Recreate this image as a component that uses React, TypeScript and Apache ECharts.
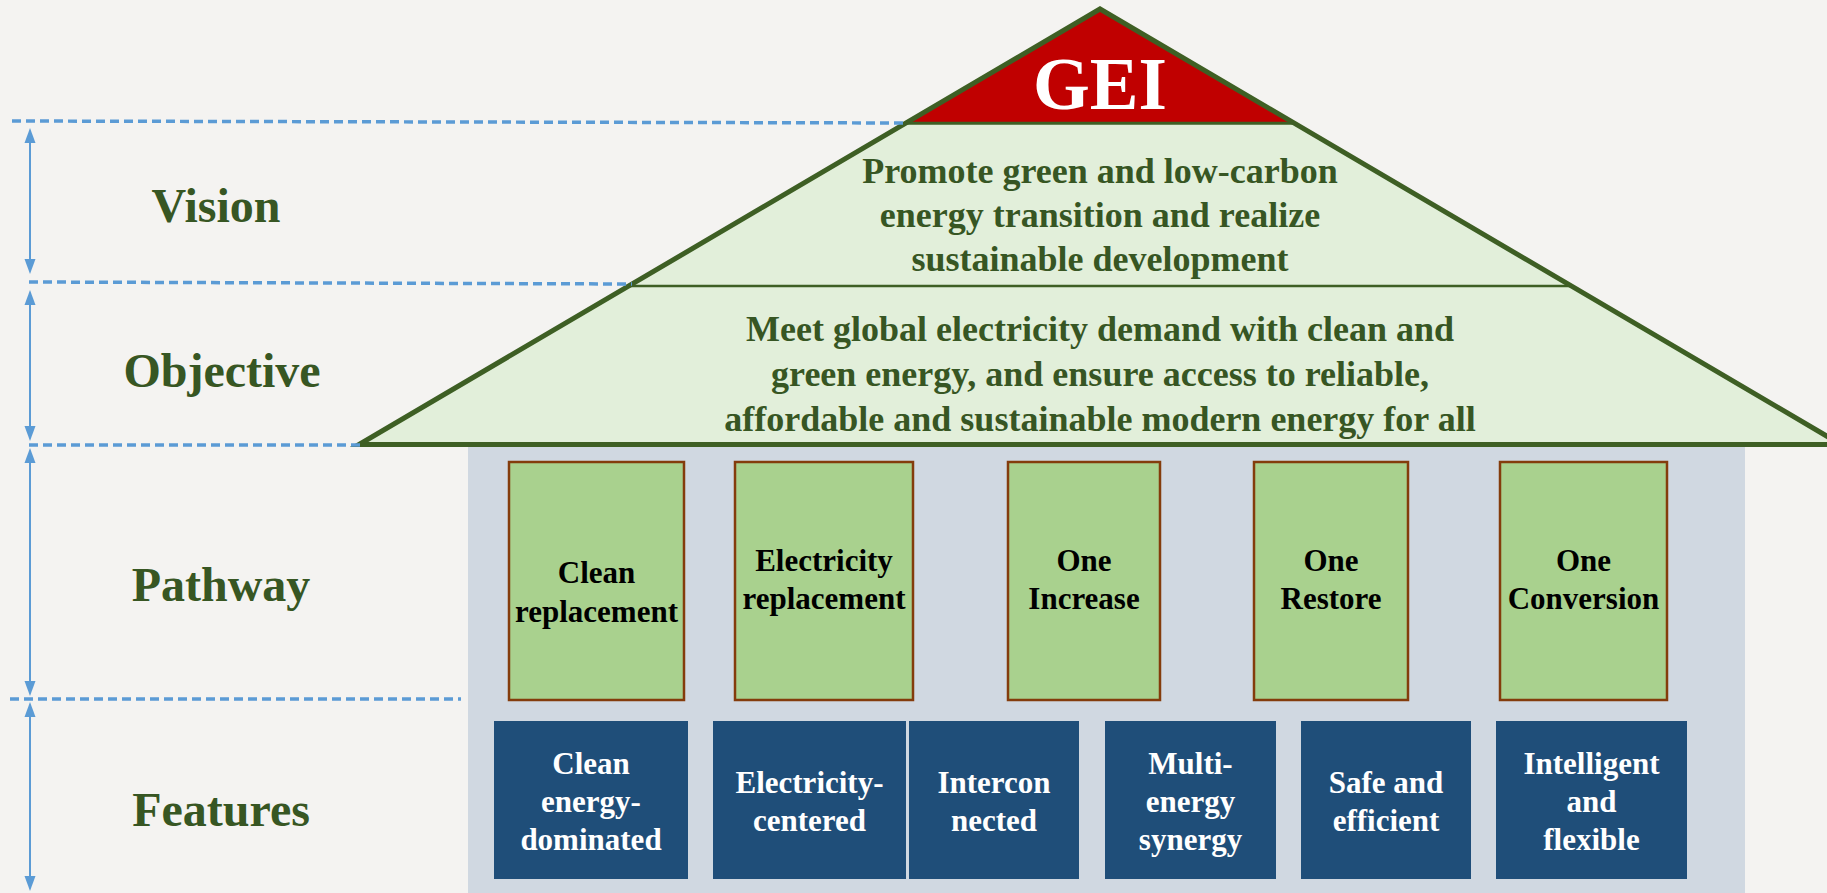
import React, { useEffect, useRef } from "react";
import * as echarts from "echarts";

// ---- content ----
const titleText = "GEI";
const layerLabels = ["Vision", "Objective", "Pathway", "Features"];
const visionLines = [
  "Promote green and low-carbon",
  "energy transition and realize",
  "sustainable development",
];
const objectiveLines = [
  "Meet global electricity demand with clean and",
  "green energy, and ensure access to reliable,",
  "affordable and sustainable modern energy for all",
];
const pathwayItems = [
  ["Clean", "replacement"],
  ["Electricity", "replacement"],
  ["One", "Increase"],
  ["One", "Restore"],
  ["One", "Conversion"],
];
const featureItems = [
  ["Clean", "energy-", "dominated"],
  ["Electricity-", "centered"],
  ["Intercon", "nected"],
  ["Multi-", "energy", "synergy"],
  ["Safe and", "efficient"],
  ["Intelligent", "and", "flexible"],
];

// ---- layout ----
const W = 1827;
const H = 893;
const labelX = [216, 222, 221, 221];
const labelY = [205, 370, 584, 809];
const visionY = [171, 215, 259];
const objectiveY = [329, 374, 419];
const pathwayX = [[509, 684], [735, 913], [1008, 1160], [1254, 1408], [1500, 1667]];
const pathwayBoxY = [462, 700];
const pathwayTextY = [[572, 611], [560, 598], [560, 598], [560, 598], [560, 598]];
const featureX = [[494, 688], [713, 906], [909, 1079], [1105, 1276], [1301, 1471], [1496, 1687]];
const featureBoxY = [721, 879];
const dashedLines = [
  [12, 121, 908, 123],
  [29, 282, 632, 284],
  [29, 445, 360, 445],
  [10, 699, 461, 699],
];
const arrowSegs = [
  [128, 274],
  [290, 441],
  [448, 696],
  [702, 891],
];

const C = {
  bg: "#f4f3f1",
  darkGreen: "#375623",
  roofStroke: "#3e5f24",
  roofFill: "#e2efda",
  red: "#c00000",
  body: "#d0d8e1",
  pathFill: "#a9d18e",
  pathStroke: "#843c0c",
  blue: "#1f4e79",
  dash: "#5b9bd5",
};
const SERIF = '"Liberation Serif", "Times New Roman", serif';

function txt(text: string, x: number, y: number, size: number, fill: string, z = 10) {
  return {
    type: "text",
    z,
    x,
    y,
    style: {
      text,
      fill,
      fontSize: size,
      fontFamily: SERIF,
      fontWeight: "bold",
      align: "center",
      verticalAlign: "middle",
      textAlign: "center",
      textVerticalAlign: "middle",
    },
  };
}

function buildElements() {
  const els: any[] = [];
  // background
  els.push({ type: "rect", z: 0, shape: { x: 0, y: 0, width: W, height: H }, style: { fill: C.bg } });
  // building body
  els.push({ type: "rect", z: 1, shape: { x: 468, y: 444, width: 1277, height: H - 444 }, style: { fill: C.body } });

  // roof geometry
  const apex = [1100, 9];
  const baseY = 444.5;
  const slope = (1100 - 359) / (baseY - apex[1]);
  const edgeX = (y: number) => slope * (y - apex[1]);
  els.push({
    type: "polygon",
    z: 2,
    shape: { points: [apex, [apex[0] - edgeX(baseY), baseY], [apex[0] + edgeX(baseY), baseY]] },
    style: { fill: C.roofFill },
  });
  const gy = 123.3;
  els.push({
    type: "polygon",
    z: 3,
    shape: { points: [apex, [apex[0] - edgeX(gy), gy], [apex[0] + edgeX(gy), gy]] },
    style: { fill: C.red },
  });
  els.push({
    type: "line",
    z: 4,
    shape: { x1: apex[0] - edgeX(gy), y1: gy, x2: apex[0] + edgeX(gy), y2: gy },
    style: { stroke: C.roofStroke, lineWidth: 3 },
  });
  const sy = 286;
  els.push({
    type: "line",
    z: 4,
    shape: { x1: apex[0] - edgeX(sy), y1: sy, x2: apex[0] + edgeX(sy), y2: sy },
    style: { stroke: C.roofStroke, lineWidth: 2.5 },
  });
  els.push({
    type: "polygon",
    z: 5,
    shape: { points: [apex, [apex[0] - edgeX(baseY), baseY], [apex[0] + edgeX(baseY), baseY]] },
    style: { fill: "none", stroke: C.roofStroke, lineWidth: 5, lineJoin: "miter" },
  });

  // title
  els.push(txt(titleText, 1100, 84, 73, "#ffffff"));
  // vision / objective text
  visionLines.forEach((t, i) => els.push(txt(t, 1100, visionY[i], 36, C.darkGreen)));
  objectiveLines.forEach((t, i) => els.push(txt(t, 1100, objectiveY[i], 36, C.darkGreen)));

  // layer labels
  layerLabels.forEach((t, i) => els.push(txt(t, labelX[i], labelY[i], 48, C.darkGreen)));

  // pathway boxes
  pathwayItems.forEach((lines, i) => {
    const [x1, x2] = pathwayX[i];
    els.push({
      type: "rect",
      z: 6,
      shape: { x: x1, y: pathwayBoxY[0], width: x2 - x1, height: pathwayBoxY[1] - pathwayBoxY[0] },
      style: { fill: C.pathFill, stroke: C.pathStroke, lineWidth: 2.5 },
    });
    lines.forEach((t, j) => els.push(txt(t, (x1 + x2) / 2, pathwayTextY[i][j], 31, "#000000", 11)));
  });

  // feature boxes
  featureItems.forEach((lines, i) => {
    const [x1, x2] = featureX[i];
    els.push({
      type: "rect",
      z: 6,
      shape: { x: x1, y: featureBoxY[0], width: x2 - x1, height: featureBoxY[1] - featureBoxY[0] },
      style: { fill: C.blue },
    });
    const cy = (featureBoxY[0] + featureBoxY[1]) / 2 + 1;
    const lh = 38;
    const n = lines.length;
    lines.forEach((t, j) =>
      els.push(txt(t, (x1 + x2) / 2, cy + (j - (n - 1) / 2) * lh, 31, "#ffffff", 11))
    );
  });

  // dashed guide lines
  dashedLines.forEach(([x1, y1, x2, y2]) =>
    els.push({
      type: "line",
      z: 7,
      shape: { x1, y1, x2, y2 },
      style: { stroke: C.dash, lineWidth: 3.5, lineDash: [9, 5] },
    })
  );

  // double-headed arrows
  const ax = 30;
  const ah = 15;
  const aw = 5.5;
  arrowSegs.forEach(([t, b]) => {
    els.push({
      type: "line",
      z: 7,
      shape: { x1: ax, y1: t + ah - 2, x2: ax, y2: b - ah + 2 },
      style: { stroke: C.dash, lineWidth: 2 },
    });
    els.push({
      type: "polygon",
      z: 7,
      shape: { points: [[ax, t], [ax - aw, t + ah], [ax + aw, t + ah]] },
      style: { fill: C.dash },
    });
    els.push({
      type: "polygon",
      z: 7,
      shape: { points: [[ax, b], [ax - aw, b - ah], [ax + aw, b - ah]] },
      style: { fill: C.dash },
    });
  });

  return els;
}

export default function App() {
  const ref = useRef<HTMLDivElement>(null);
  useEffect(() => {
    document.body.style.margin = "0";
    if (!ref.current) return;
    const chart = echarts.init(ref.current, null, { renderer: "svg" });
    chart.setOption({
      animation: false,
      backgroundColor: C.bg,
      graphic: { elements: buildElements() },
    });
    return () => chart.dispose();
  }, []);
  return <div ref={ref} style={{ width: W, height: H }} />;
}
